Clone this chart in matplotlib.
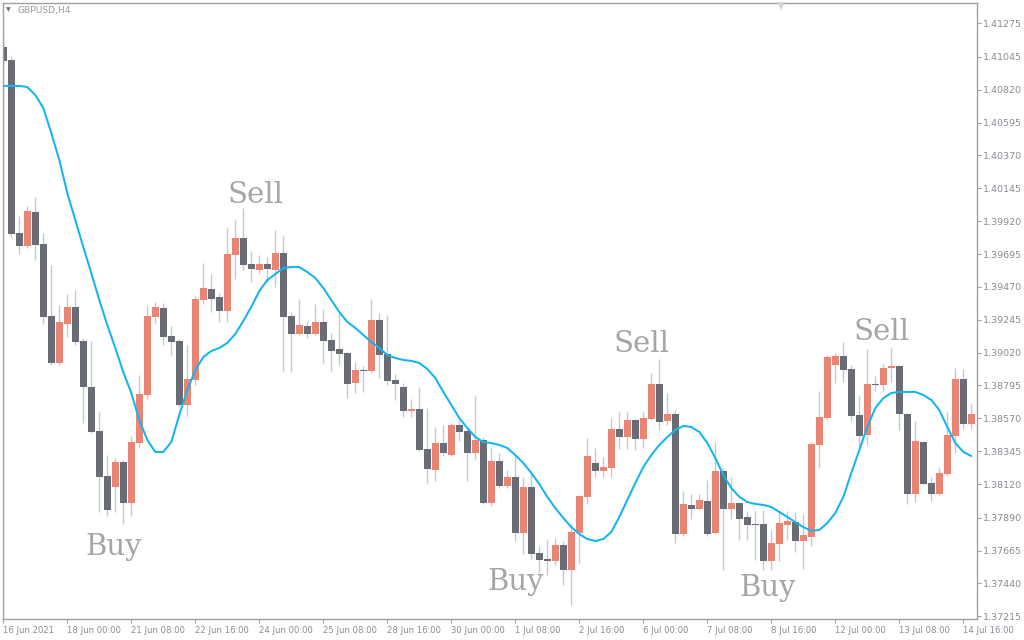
import matplotlib
matplotlib.use("Agg")
import matplotlib.pyplot as plt
import numpy as np

# ---------------- data (GBPUSD, H4) ----------------
opens = [
    1.41113, 1.41024, 1.39839, 1.39750, 1.39983, 1.39764, 1.39271, 1.38949, 1.39216, 1.39333,
    1.39100, 1.38785, 1.38483, 1.38175, 1.38100, 1.38271, 1.37991, 1.38401, 1.38730, 1.39264,
    1.39326, 1.39134, 1.39100, 1.38662, 1.38833, 1.39380, 1.39456, 1.39401, 1.39305, 1.39689,
    1.39805, 1.39627, 1.39586, 1.39627, 1.39586, 1.39702, 1.39271, 1.39148, 1.39202, 1.39148,
    1.39230, 1.39107, 1.39045, 1.39018, 1.38812, 1.38901, 1.38894, 1.39244, 1.39011, 1.38833,
    1.38785, 1.38620, 1.38634, 1.38360, 1.38216, 1.38401, 1.38319, 1.38525, 1.38483, 1.38333,
    1.38422, 1.37991, 1.38278, 1.38107, 1.38169, 1.37785, 1.38100, 1.37648, 1.37607, 1.37593,
    1.37703, 1.37532, 1.37785, 1.38032, 1.38264, 1.38210, 1.38230, 1.38497, 1.38442, 1.38559,
    1.38429, 1.38566, 1.38805, 1.38552, 1.38600, 1.37778, 1.37977, 1.37949, 1.38004, 1.37785,
    1.38210, 1.37949, 1.37991, 1.37895, 1.37847, 1.37847, 1.37593, 1.37710, 1.37840, 1.37860,
    1.37730, 1.37758, 1.38388, 1.38572, 1.38935, 1.38997, 1.38908, 1.38593, 1.38456, 1.38805,
    1.38799, 1.38915, 1.38929, 1.38600, 1.38052, 1.38408, 1.38127, 1.38052, 1.38189, 1.38449,
    1.38840, 1.38531,
]
highs = [
    1.41209, 1.41051, 1.39956, 1.40024, 1.40086, 1.39839, 1.39620, 1.39346, 1.39422, 1.39449,
    1.39120, 1.39100, 1.38614, 1.38319, 1.38299, 1.38285, 1.38449, 1.38867, 1.39339, 1.39367,
    1.39360, 1.39202, 1.39113, 1.39072, 1.39408, 1.39634, 1.39558, 1.39428, 1.39873, 1.39928,
    1.40010, 1.39716, 1.39689, 1.39675, 1.39860, 1.39819, 1.39298, 1.39387, 1.39237, 1.39353,
    1.39319, 1.39155, 1.39298, 1.39024, 1.38956, 1.38929, 1.39387, 1.39291, 1.39278, 1.38874,
    1.38812, 1.38703, 1.38785, 1.38641, 1.38511, 1.38525, 1.38538, 1.38559, 1.38497, 1.38723,
    1.38442, 1.38374, 1.38333, 1.38216, 1.38326, 1.38169, 1.38189, 1.37696, 1.37737, 1.37751,
    1.37730, 1.37847, 1.38045, 1.38436, 1.38367, 1.38306, 1.38572, 1.38614, 1.38614, 1.38572,
    1.38614, 1.38881, 1.38976, 1.38744, 1.38627, 1.38073, 1.38052, 1.38052, 1.38148, 1.38408,
    1.38230, 1.38169, 1.37997, 1.37936, 1.37936, 1.37943, 1.37806, 1.37936, 1.37936, 1.37929,
    1.37915, 1.38408, 1.38757, 1.39004, 1.39018, 1.39093, 1.38935, 1.38723, 1.39045, 1.38860,
    1.38942, 1.39052, 1.38935, 1.38607, 1.38552, 1.38415, 1.38169, 1.38237, 1.38614, 1.38915,
    1.38908, 1.38668,
]
lows = [
    1.40983, 1.39812, 1.39695, 1.39736, 1.39654, 1.39216, 1.38935, 1.38935, 1.39127, 1.39072,
    1.38538, 1.38470, 1.37929, 1.37901, 1.37929, 1.37847, 1.37901, 1.38367, 1.38703, 1.39223,
    1.39072, 1.39004, 1.38648, 1.38586, 1.38799, 1.39353, 1.39298, 1.39230, 1.39230, 1.39524,
    1.39586, 1.39504, 1.39558, 1.39504, 1.39469, 1.38894, 1.38887, 1.39141, 1.39120, 1.39141,
    1.38949, 1.38894, 1.38935, 1.38709, 1.38744, 1.38751, 1.38881, 1.38846, 1.38799, 1.38696,
    1.38579, 1.38579, 1.38347, 1.38127, 1.38141, 1.38312, 1.38312, 1.38415, 1.38141, 1.38292,
    1.37984, 1.37970, 1.38093, 1.38093, 1.37730, 1.37641, 1.37607, 1.37511, 1.37498, 1.37566,
    1.37429, 1.37292, 1.37580, 1.37984, 1.38169, 1.38169, 1.38169, 1.38360, 1.38360, 1.38353,
    1.38367, 1.38559, 1.38490, 1.38525, 1.37717, 1.37765, 1.37881, 1.37943, 1.37765, 1.37778,
    1.37532, 1.37881, 1.37737, 1.37737, 1.37600, 1.37532, 1.37532, 1.37593, 1.37737, 1.37655,
    1.37539, 1.37696, 1.38230, 1.38559, 1.38812, 1.38819, 1.38552, 1.38381, 1.38388, 1.38757,
    1.38757, 1.38819, 1.38490, 1.37984, 1.37997, 1.38114, 1.38004, 1.38045, 1.38175, 1.38333,
    1.38497, 1.38497,
]
closes = [
    1.41017, 1.39832, 1.39750, 1.39990, 1.39757, 1.39264, 1.38949, 1.39230, 1.39333, 1.39093,
    1.38785, 1.38477, 1.38169, 1.37943, 1.38271, 1.37991, 1.38408, 1.38737, 1.39271, 1.39333,
    1.39127, 1.39093, 1.38662, 1.38840, 1.39387, 1.39463, 1.39387, 1.39305, 1.39695, 1.39805,
    1.39620, 1.39593, 1.39627, 1.39593, 1.39702, 1.39264, 1.39148, 1.39209, 1.39148, 1.39230,
    1.39100, 1.39031, 1.39011, 1.38805, 1.38901, 1.38894, 1.39244, 1.39004, 1.38826, 1.38805,
    1.38620, 1.38634, 1.38353, 1.38223, 1.38401, 1.38333, 1.38525, 1.38477, 1.38333, 1.38422,
    1.37991, 1.38278, 1.38107, 1.38169, 1.37785, 1.38100, 1.37641, 1.37600, 1.37593, 1.37703,
    1.37532, 1.37792, 1.38038, 1.38312, 1.38210, 1.38237, 1.38497, 1.38442, 1.38559, 1.38429,
    1.38572, 1.38805, 1.38545, 1.38600, 1.37778, 1.37984, 1.37949, 1.38011, 1.37778, 1.38210,
    1.37949, 1.37991, 1.37881, 1.37840, 1.37840, 1.37593, 1.37717, 1.37854, 1.37867, 1.37730,
    1.37771, 1.38394, 1.38579, 1.38990, 1.38997, 1.38901, 1.38586, 1.38449, 1.38805, 1.38799,
    1.38915, 1.38929, 1.38600, 1.38052, 1.38415, 1.38121, 1.38052, 1.38196, 1.38456, 1.38840,
    1.38531, 1.38600,
]
# smoothed indicator line
smooth = [
    1.40846, 1.40846, 1.40846, 1.40839, 1.40784, 1.40695, 1.40524, 1.40339, 1.40113, 1.39928,
    1.39743, 1.39565, 1.39380, 1.39209, 1.39052, 1.38887, 1.38744, 1.38559, 1.38422, 1.38340,
    1.38340, 1.38408, 1.38593, 1.38764, 1.38901, 1.38990, 1.39031, 1.39052, 1.39086, 1.39148,
    1.39237, 1.39333, 1.39442, 1.39517, 1.39558, 1.39600, 1.39606, 1.39606, 1.39572, 1.39531,
    1.39463, 1.39380, 1.39298, 1.39230, 1.39189, 1.39141, 1.39093, 1.39052, 1.39004, 1.38983,
    1.38970, 1.38963, 1.38949, 1.38908, 1.38846, 1.38751, 1.38662, 1.38572, 1.38504, 1.38442,
    1.38408, 1.38401, 1.38388, 1.38367, 1.38319, 1.38264, 1.38196, 1.38121, 1.38032, 1.37956,
    1.37888, 1.37826, 1.37778, 1.37744, 1.37730, 1.37744, 1.37792, 1.37895, 1.38011, 1.38127,
    1.38237, 1.38319, 1.38388, 1.38442, 1.38490, 1.38518, 1.38511, 1.38477, 1.38401, 1.38299,
    1.38182, 1.38093, 1.38032, 1.37997, 1.37984, 1.37977, 1.37963, 1.37929, 1.37895, 1.37860,
    1.37826, 1.37799, 1.37806, 1.37854, 1.37922, 1.38032, 1.38196, 1.38353, 1.38511, 1.38641,
    1.38709, 1.38744, 1.38751, 1.38751, 1.38751, 1.38730, 1.38696, 1.38627, 1.38511, 1.38401,
    1.38340, 1.38312,
]
price_ticks = [1.41275, 1.41045, 1.40820, 1.40595, 1.40370, 1.40145, 1.39920, 1.39695,
               1.39470, 1.39245, 1.39020, 1.38795, 1.38570, 1.38345, 1.38120, 1.37890,
               1.37665, 1.37440, 1.37215]
date_labels = ["16 Jun 2021", "18 Jun 00:00", "21 Jun 08:00", "22 Jun 16:00",
               "24 Jun 00:00", "25 Jun 08:00", "28 Jun 16:00", "30 Jun 00:00",
               "1 Jul 08:00", "2 Jul 16:00", "6 Jul 00:00", "7 Jul 08:00",
               "8 Jul 16:00", "12 Jul 00:00", "13 Jul 08:00", "14 Jul 16:00"]
date_label_bars = list(range(0, 121, 8))
signals = ["Sell", "Buy", "Sell", "Buy", "Buy", "Sell"]
signal_bars = [31.5, 13.85, 79.8, 64.1, 95.6, 109.8]
signal_prices = [1.40099, 1.37689, 1.39079, 1.37450, 1.37409, 1.39161]

# ---------------- style ----------------
BEAR = "#696c74"
BULL = "#ec8473"
WICK = "#c6c8d0"
LINE = "#12b5f0"
AXIS = "#a0a0a4"
LABEL = "#8a8a94"

O = np.array(opens); H = np.array(highs); L = np.array(lows); C = np.array(closes)
x = np.arange(len(O))

fig = plt.figure(figsize=(10.24, 6.4), dpi=100)
fig.patch.set_facecolor("white")
ax = fig.add_axes([3 / 1024, 1 - 619 / 640, 974 / 1024, 616 / 640])
ax.set_facecolor("white")

ax.vlines(x, L, H, color=WICK, linewidth=1.0, zorder=1)
bull = C >= O
colors = np.where(bull, BULL, BEAR)
bottoms = np.minimum(O, C)
heights = np.maximum(np.abs(C - O), 0.00004)
ax.bar(x, heights, bottom=bottoms, width=0.84, color=colors, linewidth=0,
       zorder=2, antialiased=False)

ax.plot(x, smooth, color=LINE, linewidth=1.45, zorder=3, solid_capstyle="round")

for txt, bx, py in zip(signals, signal_bars, signal_prices):
    ax.text(bx, py, txt, ha="center", va="center", fontsize=21,
            family="DejaVu Serif", color="#a5a5a5", zorder=4)

ax.set_xlim(-0.0375, 121.71)
ax.set_ylim(1.371962, 1.414140)

ax.yaxis.tick_right()
ax.set_yticks(price_ticks)
ax.set_yticklabels([f"{p:.5f}" for p in price_ticks])
ax.set_xticks(date_label_bars)
ax.set_xticklabels(date_labels, ha="left")
ax.tick_params(axis="y", direction="out", length=3, width=0.8, color=AXIS,
               labelcolor=LABEL, labelsize=6.8, pad=1.5)
ax.tick_params(axis="x", direction="out", length=3, width=0.8, color=AXIS,
               labelcolor=LABEL, labelsize=6.1, pad=2)
for s in ax.spines.values():
    s.set_color(AXIS)
    s.set_linewidth(1.0)

fig.text(18 / 1024, 1 - 10 / 640, "GBPUSD,H4", fontsize=6.6, color="#9a9aa6",
         ha="left", va="center")
fig.text(8 / 1024, 1 - 10 / 640, "\u25BC", fontsize=4.5, color="#707078",
         ha="center", va="center")
fig.text(781 / 1024, 1 - 6 / 640, "\u25BC", fontsize=8, color="#d4d4dc",
         ha="center", va="center")

fig.savefig("out.png", dpi=100, facecolor="white")
